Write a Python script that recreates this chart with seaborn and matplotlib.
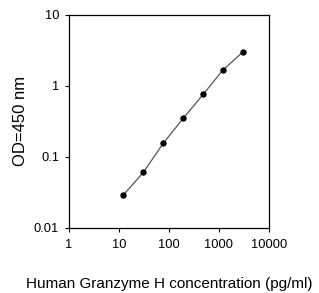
import matplotlib
matplotlib.use("Agg")
import matplotlib.pyplot as plt
import seaborn as sns
import pandas as pd

# standard curve values
conc = [12.3, 30.7, 77, 194, 486, 1190, 2980]
od = [0.029, 0.060, 0.155, 0.349, 0.76, 1.66, 2.98]
x_ticks = [1, 10, 100, 1000, 10000]
y_ticks = [0.01, 0.1, 1, 10]
y_labels = ['0.01', '0.1', '1', '10']

sns.set_style("white")
plt.rcParams['font.family'] = ['Liberation Sans', 'DejaVu Sans']

df = pd.DataFrame({'conc': conc, 'od': od})

fig = plt.figure(figsize=(3.19, 2.93), dpi=100)
ax = fig.add_axes([0.216, 0.223, 0.627, 0.726])
sns.lineplot(data=df, x='conc', y='od', ax=ax, color='#555555', linewidth=0.9,
             marker='o', markersize=3.8, markerfacecolor='black',
             markeredgecolor='black')
ax.set_xscale('log')
ax.set_yscale('log')
ax.set_xlim(1, 10000)
ax.set_ylim(0.01, 10)
ax.set_xticks(x_ticks)
ax.set_xticklabels([str(t) for t in x_ticks])
ax.set_yticks(y_ticks)
ax.set_yticklabels(y_labels)
ax.minorticks_off()
ax.tick_params(axis='both', length=3, width=0.8, labelsize=9.3, color='black',
               labelcolor='black', direction='out', bottom=True, left=True)
ax.tick_params(axis='x', pad=5)
ax.tick_params(axis='y', pad=4)
for s in ax.spines.values():
    s.set_color('black')
    s.set_linewidth(0.9)
ax.set_xlabel('Human Granzyme H concentration (pg/ml)', fontsize=11,
              labelpad=19, color='black')
ax.set_ylabel('OD=450 nm', fontsize=12, labelpad=4, color='black')

fig.savefig('out.png', dpi=100)
